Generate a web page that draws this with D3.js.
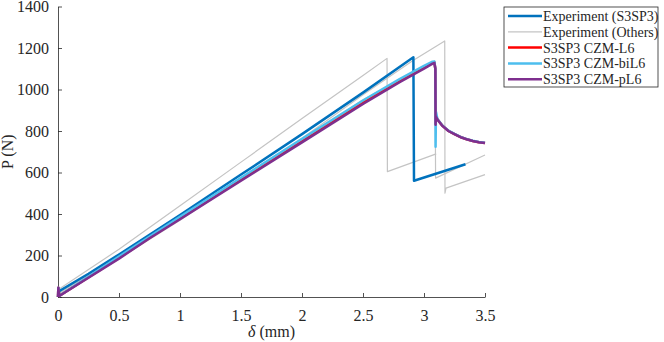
<!DOCTYPE html>
<html>
<head>
<meta charset="utf-8">
<script src="https://cdn.jsdelivr.net/npm/d3@7/dist/d3.min.js"></script>
<style>
  body { margin: 0; background: #fff; }
  text { font-family: "Liberation Serif", "Times New Roman", serif; fill: #262626; }
</style>
</head>
<body>
<div id="chart"></div>
<script>
// displacement (mm), load (N) pairs
var expS3SP3 = [[0,25],[0.25,112],[0.5,205],[0.75,300],[1,395],[1.5,590],[2,785],[2.5,985],[2.913,1155],[2.918,560],[3.34,640]];
var expOtherA = [[0,35],[0.5,230],[1,440],[1.5,650],[2,860],[2.5,1068],[2.697,1150],[2.70,604],[3.10,690]];
var expOtherB = [[0,10],[0.5,185],[1,370],[1.5,565],[2,765],[2.5,975],[2.91,1140],[3.17,1234],[3.172,500],[3.18,525],[3.5,590]];
var expOtherC = [[0,15],[0.5,195],[1,380],[1.5,570],[2,760],[2.5,950],[2.9,1080],[3.05,1122],[3.09,1128],[3.095,573],[3.5,684]];
var czmL6 = [[0,0],[0.003,45],[0.01,5],[0.5,190],[1,380],[1.5,566],[2,752],[2.5,937],[2.8,1042],[3.0,1108],[3.07,1130],[3.085,1132],[3.093,1100],[3.095,835],[3.098,872],[3.11,856],[3.15,826],[3.2,801],[3.25,785],[3.3,771],[3.35,760],[3.4,752],[3.45,746],[3.5,742]];
var czmBiL6 = [[0,0],[0.003,45],[0.01,5],[0.5,195],[1,387],[1.5,575],[2,762],[2.5,947],[2.8,1050],[3.0,1114],[3.07,1134],[3.085,1135],[3.093,1100],[3.095,724],[3.098,893],[3.11,858],[3.15,827],[3.2,802],[3.25,786],[3.3,772],[3.35,761],[3.4,753],[3.45,747],[3.5,743]];
var czmPL6 = [[0,0],[0.003,45],[0.01,5],[0.5,185],[0.75,283],[1,375],[1.5,560],[2,745],[2.5,930],[2.8,1035],[3.0,1100],[3.07,1125],[3.085,1128],[3.093,1100],[3.095,830],[3.098,870],[3.11,855],[3.15,825],[3.2,800],[3.25,785],[3.3,770],[3.35,760],[3.4,752],[3.45,746],[3.5,742]];

var xTicks = [0, 0.5, 1, 1.5, 2, 2.5, 3, 3.5];
var yTicks = [0, 200, 400, 600, 800, 1000, 1200, 1400];

var legendNames = ["Experiment (S3SP3)", "Experiment (Others)", "S3SP3 CZM-L6", "S3SP3 CZM-biL6", "S3SP3 CZM-pL6"];
var legendColors = ["#0072BD", "#c4c4c4", "#FF0000", "#4DBEEE", "#7E2F8E"];

var margin = {top: 6.5, right: 179, bottom: 45, left: 58},
    width = 664 - margin.left - margin.right,
    height = 342 - margin.top - margin.bottom;

var svg = d3.select("#chart")
  .append("svg")
    .attr("width", 664)
    .attr("height", 342)
  .append("g")
    .attr("transform", "translate(" + margin.left + "," + margin.top + ")");

var x = d3.scaleLinear().domain([0, 3.5]).range([0, width]);
var y = d3.scaleLinear().domain([0, 1400]).range([height, 0]);

// axes, ticks pointing inward like matlab
var xAxis = svg.append("g")
  .attr("transform", "translate(0," + height + ")")
  .call(d3.axisBottom(x).tickValues(xTicks).tickSize(-4).tickPadding(13).tickSizeOuter(0)
    .tickFormat(function(d) { return String(d); }));
var yAxis = svg.append("g")
  .call(d3.axisLeft(y).tickValues(yTicks).tickSize(-4).tickPadding(9).tickSizeOuter(0)
    .tickFormat(function(d) { return String(d); }));

[xAxis, yAxis].forEach(function(a) {
  a.attr("font-family", "Liberation Serif").attr("font-size", 16);
  a.selectAll("path, line").attr("stroke", "#262626").attr("stroke-width", 0.8);
  a.selectAll("text").attr("fill", "#262626");
});

var line = d3.line()
  .x(function(d) { return x(d[0]); })
  .y(function(d) { return y(d[1]); });

var plot = svg.append("g");
function draw(data, color, w) {
  plot.append("path")
    .datum(data)
    .attr("d", line)
    .attr("fill", "none")
    .attr("stroke", color)
    .attr("stroke-width", w)
    .attr("stroke-linejoin", "round");
}
draw(expOtherA, legendColors[1], 1.2);
draw(expOtherB, legendColors[1], 1.2);
draw(expOtherC, legendColors[1], 1.2);
draw(expS3SP3, legendColors[0], 2.5);
draw(czmL6, legendColors[2], 2.5);
draw(czmBiL6, legendColors[3], 2.5);
draw(czmPL6, legendColors[4], 2.5);

// axis labels
svg.append("text")
  .attr("x", width / 2)
  .attr("y", height + 40)
  .attr("text-anchor", "middle")
  .style("font-size", "16px")
  .html('<tspan font-style="italic">δ</tspan> (mm)');
svg.append("text")
  .attr("transform", "translate(" + (-45) + "," + (height / 2) + ") rotate(-90)")
  .attr("text-anchor", "middle")
  .style("font-size", "16px")
  .text("P (N)");

// legend
var lg = svg.append("g").attr("transform", "translate(" + (504 - margin.left) + "," + (7 - margin.top) + ")");
lg.append("rect")
  .attr("width", 154).attr("height", 80)
  .attr("fill", "#fff").attr("stroke", "#262626").attr("stroke-width", 0.8);
legendNames.forEach(function(name, i) {
  var yy = 9 + i * 15.8;
  lg.append("line")
    .attr("x1", 4).attr("x2", 38).attr("y1", yy).attr("y2", yy)
    .attr("stroke", legendColors[i]).attr("stroke-width", i == 1 ? 1.2 : 2.5);
  lg.append("text")
    .attr("x", 39).attr("y", yy)
    .attr("dy", "0.35em")
    .style("font-size", "14px")
    .text(name);
});
</script>
</body>
</html>
